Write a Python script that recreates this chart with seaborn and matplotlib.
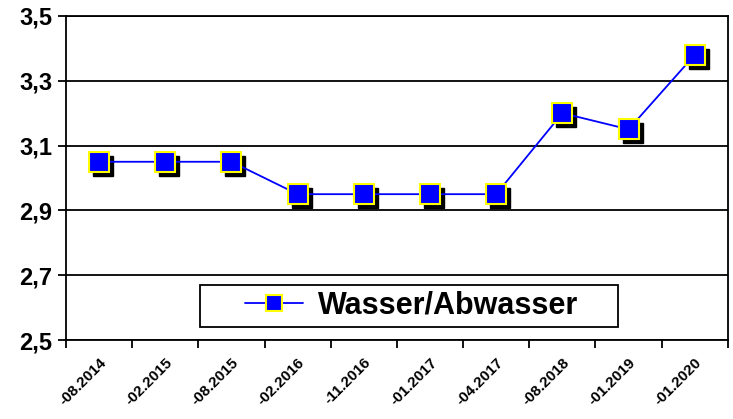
import pandas as pd
import numpy as np
import matplotlib
matplotlib.use('Agg')
import matplotlib.pyplot as plt
import matplotlib.transforms as mtransforms
from matplotlib.patches import Rectangle
from matplotlib.ticker import FuncFormatter, FixedLocator
import seaborn as sns

# Set style
sns.set_style("white")
plt.rcParams['font.family'] = ['Liberation Sans', 'DejaVu Sans']
plt.rcParams['text.color'] = 'black'
plt.rcParams['xtick.color'] = 'black'
plt.rcParams['ytick.color'] = 'black'

# Data
dates = ['-08.2014', '-02.2015', '-08.2015', '-02.2016', '-11.2016',
         '-01.2017', '-04.2017', '-08.2018', '-01.2019', '-01.2020']
prices = [3.05, 3.05, 3.05, 2.95, 2.95, 2.95, 2.95, 3.20, 3.15, 3.38]
series_name = 'Wasser/Abwasser'

df = pd.DataFrame({'pos': np.arange(len(dates)), 'price': prices})

fig = plt.figure(figsize=(7.33, 4.19), dpi=100)
ax = fig.add_axes([0.090, 0.1885, 0.903, 0.7735])

# Shadow squares, shifted a few pixels right/down
shadow = mtransforms.offset_copy(ax.transData, fig=fig, x=4, y=-4, units='dots')
ax.plot(df['pos'], df['price'], linestyle='none', marker='s', markersize=14,
        color='black', transform=shadow, zorder=3)

sns.lineplot(data=df, x='pos', y='price', ax=ax, color='#0000ff', linewidth=1.3,
             marker='s', markersize=14, markerfacecolor='#0000ff',
             markeredgecolor='#ffff00', markeredgewidth=1.5,
             label=series_name, zorder=4)

ax.set_xlim(-0.5, len(dates) - 0.5)
ax.set_ylim(2.5, 3.5)
ax.set_yticks(np.arange(2.5, 3.51, 0.2))
ax.yaxis.set_major_formatter(FuncFormatter(lambda v, p: f'{v:.1f}'.replace('.', ',')))
ax.grid(axis='y', color='black', linewidth=1.3)
ax.set_axisbelow(True)

# Category labels at centers, tick marks at boundaries
ax.set_xticks(df['pos'])
ax.set_xticklabels(dates, rotation=45, ha='right', rotation_mode='anchor',
                   fontsize=11, fontweight='bold', color='black')
shift = mtransforms.ScaledTranslation(-6 / 100, 0, fig.dpi_scale_trans)
for lab in ax.get_xticklabels():
    lab.set_transform(lab.get_transform() + shift)
ax.xaxis.set_minor_locator(FixedLocator(np.arange(-0.5, len(dates), 1.0)))
ax.tick_params(axis='x', which='major', length=0, pad=11)
ax.tick_params(axis='x', which='minor', length=6, width=1.3, color='black',
               direction='out', bottom=True)
ax.tick_params(axis='y', length=6, width=1.3, color='black', direction='out',
               left=True, labelsize=17, pad=4)
for lab in ax.get_yticklabels():
    lab.set_fontweight('bold')
    lab.set_color('black')

for side in ['left', 'right', 'top', 'bottom']:
    ax.spines[side].set_visible(True)
    ax.spines[side].set_color('black')
    ax.spines[side].set_linewidth(1.3)

ax.set_xlabel('')
ax.set_ylabel('')

# Legend box drawn separately so it can be wider than the legend content
ax.add_patch(Rectangle((0.2024, 0.040), 0.632, 0.130, transform=ax.transAxes,
                       facecolor='white', edgecolor='black', linewidth=1.3,
                       zorder=5))
leg = ax.legend(loc='center', bbox_to_anchor=(0.522, 0.105), frameon=False,
                prop={'weight': 'bold', 'size': 22}, handlelength=1.9,
                borderpad=0.2, handletextpad=0.5, borderaxespad=0)
leg.set_zorder(6)
for t in leg.get_texts():
    t.set_color('black')
for h in leg.legend_handles:
    h.set_markersize(12)

fig.savefig('out.png', dpi=100)
